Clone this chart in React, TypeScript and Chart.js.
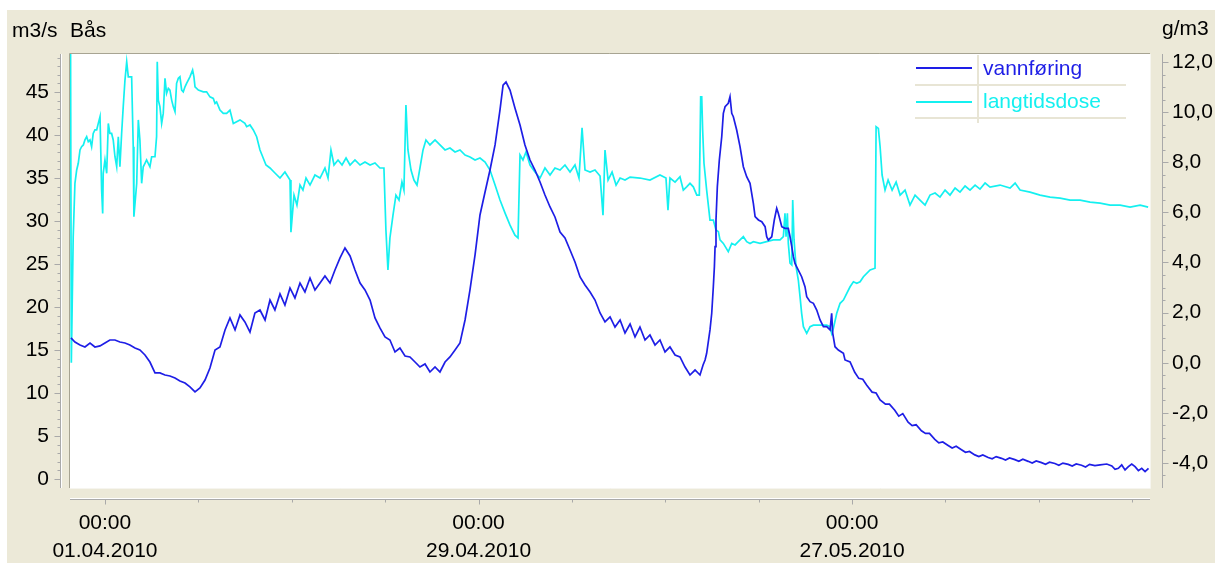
import React, { useEffect, useRef } from "react";
import { Chart, registerables } from "chart.js";
Chart.register(...registerables);

// x values are days since 01.04.2010 00:00
const flowDays = [
  -2.55, -2.25, -1.87, -1.5, -1.12, -0.75, -0.37, 0, 0.37, 0.75, 1.12, 1.5, 1.87, 2.25, 2.62, 3.0, 3.37, 3.75,
  4.12, 4.5, 4.87, 5.25, 5.62, 6.0, 6.37, 6.75, 7.12, 7.5, 7.87, 8.25, 8.62, 9.0, 9.37, 9.75, 10.12, 10.49,
  10.87, 11.24, 11.62, 12.0, 12.37, 12.74, 13.12, 13.49, 13.87, 14.24, 14.62, 14.99, 15.37, 15.74, 16.12, 16.49,
  16.87, 17.24, 17.62, 17.99, 18.37, 18.74, 19.12, 19.49, 19.87, 20.24, 20.61, 20.99, 21.36, 21.74, 22.11, 22.49,
  22.86, 23.24, 23.61, 23.99, 24.36, 24.74, 25.11, 25.49, 25.86, 26.24, 26.61, 26.99, 27.36, 27.74, 28.11, 28.49,
  28.86, 29.24, 29.61, 29.84, 30.06, 30.36, 30.73, 31.11, 31.48, 31.86, 32.23, 32.61, 32.98, 33.36, 33.73, 34.11,
  34.48, 34.86, 35.23, 35.61, 35.98, 36.36, 36.73, 37.11, 37.48, 37.86, 38.23, 38.61, 38.98, 39.36, 39.73, 40.1,
  40.48, 40.85, 41.23, 41.6, 41.98, 42.35, 42.73, 43.1, 43.48, 43.85, 44.23, 44.6, 44.83, 44.98, 45.1, 45.35,
  45.48, 45.6, 45.68, 45.73, 45.8, 45.9, 46.05, 46.23, 46.35, 46.48, 46.72, 46.85, 46.98, 47.1, 47.35, 47.6,
  47.85, 48.1, 48.35, 48.6, 48.73, 48.98, 49.23, 49.48, 49.6, 49.72, 49.98, 50.17, 50.35, 50.47, 50.73, 50.97,
  51.22, 51.35, 51.48, 51.6, 51.72, 51.97, 52.22, 52.47, 52.6, 52.85, 53.1, 53.35, 53.6, 53.85, 54.1, 54.35,
  54.47, 54.55, 54.72, 54.97, 55.35, 55.47, 55.85, 56.2, 56.5, 56.8, 57.1, 57.5, 57.8, 58.1, 58.5, 58.8,
  59.2, 59.5, 59.8, 60.2, 60.5, 60.8, 61.2, 61.5, 61.8, 62.2, 62.5, 62.8, 63.2, 63.5, 63.8, 64.2,
  64.5, 64.8, 65.2, 65.5, 65.8, 66.2, 66.5, 66.8, 67.2, 67.5, 67.8, 68.2, 68.5, 68.8, 69.2, 69.5,
  69.8, 70.2, 70.5, 70.8, 71.2, 71.5, 71.8, 72.2, 72.5, 72.8, 73.2, 73.5, 73.8, 74.2, 74.59, 75.09,
  75.47, 75.71, 75.96, 76.21, 76.46, 76.71, 76.96, 77.21, 77.46, 77.71, 77.96, 78.22,
];
const flowValues = [
  16.4, 15.93, 15.58, 15.35, 15.81, 15.35, 15.47, 15.81, 16.16, 16.16, 15.93, 15.81, 15.58, 15.23, 15.0, 14.42, 13.6, 12.33,
  12.33, 12.09, 11.98, 11.74, 11.4, 11.16, 10.7, 10.12, 10.58, 11.51, 12.91, 15.0, 15.35, 17.33, 18.72, 17.33, 19.07, 18.26,
  17.09, 19.3, 19.65, 18.49, 20.81, 19.65, 21.51, 20.23, 22.21, 21.05, 22.79, 21.74, 23.37, 21.98, 22.79, 23.6,
  22.79, 24.3, 25.7, 26.86, 25.93, 24.3, 22.79, 21.98, 20.81, 18.72, 17.56, 16.51, 16.16, 14.77, 15.23, 14.3,
  14.19, 13.6, 13.02, 13.37, 12.44, 13.02, 12.44, 13.6, 14.19, 15.0, 15.81, 18.49, 21.98, 26.05, 30.7, 33.37,
  35.93, 38.84, 42.91, 45.81, 46.16, 45.23, 43.14, 41.16, 38.84, 37.09, 35.93, 34.53, 33.02, 31.63, 30.47, 28.72,
  28.02, 26.63, 25.23, 23.49, 22.56, 21.74, 20.81, 19.3, 18.26, 18.84, 17.67, 18.49, 16.98, 18.02, 16.51, 17.67,
  16.16, 16.74, 15.58, 16.16, 14.77, 15.35, 14.42, 14.19, 13.02, 12.09, 12.67, 12.09, 13.26, 13.84, 14.62, 17.33,
  19.27, 22.36, 24.69, 27.01, 30.12, 33.99, 37.09, 39.8, 42.52, 43.29, 43.69, 44.45, 42.52, 42.13, 40.58, 38.64,
  36.31, 35.15, 34.38, 32.05, 30.5, 30.12, 29.92, 29.34, 28.17, 27.79, 28.17, 30.12, 31.48, 30.9, 29.34, 29.15,
  29.15, 28.17, 27.01, 25.85, 25.07, 24.3, 23.52, 22.36, 21.2, 20.62, 20.43, 19.65, 18.49, 17.71, 17.71, 17.33,
  19.27, 16.94, 15.38, 15.0, 14.62, 13.84, 13.6, 12.4, 11.7, 11.6, 10.9, 10.1, 10.0, 9.2, 8.7, 8.7,
  8.0, 7.3, 7.6, 6.6, 6.2, 6.3, 5.6, 5.3, 5.3, 4.6, 4.2, 4.3, 3.9, 3.6, 3.8, 3.4,
  3.1, 3.2, 2.8, 2.6, 2.8, 2.5, 2.35, 2.6, 2.4, 2.2, 2.45, 2.25, 2.05, 2.3, 2.05, 1.85,
  2.1, 1.9, 1.7, 1.95, 1.8, 1.6, 1.85, 1.7, 1.5, 1.75, 1.6, 1.4, 1.7, 1.55, 1.63, 1.74,
  1.51, 1.13, 1.24, 1.63, 1.05, 1.43, 1.74, 1.43, 0.97, 1.24, 0.85, 1.24,
];

const doseDays = [
  -2.58, -2.52, -2.38, -2.25, -2.12, -2.0, -1.87, -1.75, -1.62, -1.5, -1.37, -1.25, -1.12, -1.0, -0.88, -0.75,
  -0.62, -0.5, -0.37, -0.25, -0.17, -0.13, 0.0, 0.13, 0.25, 0.37, 0.5, 0.62, 0.75, 0.88, 1.0, 1.12, 1.25, 1.37,
  1.5, 1.63, 1.75, 2.0, 2.12, 2.17, 2.38, 2.5, 2.62, 2.75, 2.87, 3.0, 3.12, 3.37, 3.5, 3.75, 3.87, 3.92, 4.0,
  4.12, 4.25, 4.37, 4.5, 4.62, 4.75, 4.87, 5.0, 5.12, 5.25, 5.37, 5.5, 5.62, 5.75, 5.87, 6.0, 6.12, 6.37, 6.57,
  6.67, 6.75, 7.0, 7.37, 7.62, 7.87, 8.12, 8.25, 8.37, 8.62, 8.87, 9.12, 9.37, 9.62, 9.87, 10.12, 10.49, 10.62,
  10.87, 11.12, 11.37, 11.62, 11.77, 12.07, 12.37, 12.74, 13.12, 13.49, 13.87, 13.94, 14.17, 14.39, 14.62, 14.84,
  15.07, 15.37, 15.74, 16.12, 16.49, 16.72, 16.94, 17.17, 17.47, 17.77, 18.07, 18.37, 18.74, 19.12, 19.49, 19.87,
  20.24, 20.61, 20.91, 21.06, 21.21, 21.36, 21.59, 21.81, 22.04, 22.26, 22.41, 22.56, 22.71, 22.94, 23.16, 23.39,
  23.61, 23.84, 24.06, 24.36, 24.74, 25.11, 25.49, 25.86, 26.24, 26.61, 26.99, 27.36, 27.74, 28.11, 28.49, 28.86,
  29.24, 29.61, 29.99, 30.36, 30.73, 30.96, 31.11, 31.33, 31.56, 31.86, 32.23, 32.61, 32.98, 33.36, 33.73, 34.11,
  34.48, 34.86, 35.23, 35.53, 35.76, 35.98, 36.36, 36.73, 37.11, 37.33, 37.48, 37.71, 38.01, 38.31, 38.61, 38.98,
  39.36, 40.1, 40.85, 41.6, 42.05, 42.2, 42.35, 42.73, 43.1, 43.35, 43.6, 43.85, 44.1, 44.36, 44.55, 44.65, 44.73,
  44.8, 44.9, 45.1, 45.35, 45.6, 45.8, 45.98, 46.1, 46.35, 46.72, 46.98, 47.23, 47.47, 47.85, 48.1, 48.35, 48.6,
  49.1, 49.6, 50.1, 50.6, 50.85, 50.97, 51.05, 51.15, 51.22, 51.35, 51.48, 51.55, 51.65, 51.8, 51.97, 52.1, 52.22,
  52.35, 52.6, 52.85, 53.1, 54.1, 54.35, 54.47, 54.6, 54.85, 55.1, 55.35, 55.85, 56.1, 56.35, 56.6, 56.85, 57.35,
  57.72, 57.8, 57.97, 58.1, 58.25, 58.47, 58.7, 59.0, 59.3, 59.6, 59.97, 60.34, 60.72, 61.09, 61.47, 61.84, 62.22,
  62.59, 62.97, 63.34, 63.72, 64.09, 64.47, 64.84, 65.22, 65.59, 65.97, 66.34, 67.09, 67.84, 68.22, 68.59, 69.34,
  70.09, 70.84, 71.59, 72.34, 73.09, 73.84, 74.59, 75.34, 76.09, 76.84, 77.59, 78.19,
];
const doseValues = [
  13.0, 0.0, 5.03, 7.16, 7.69, 7.96, 8.49, 8.62, 8.69, 8.89, 9.02, 8.82, 8.89, 8.62, 9.15, 9.29,
  9.29, 9.55, 9.82, 6.89, 5.96, 7.56, 8.09, 7.56, 9.55, 9.15, 9.15, 8.89, 8.22, 7.82, 9.02, 7.82, 9.15, 10.22,
  11.28, 12.01, 11.41, 11.41, 8.62, 5.83, 7.16, 9.69, 8.89, 7.16, 7.82, 7.96, 8.09, 7.82, 8.22, 8.22, 9.02, 12.01, 10.48,
  10.22, 9.55, 9.95, 11.35, 10.75, 10.95, 10.88, 10.48, 10.22, 10.02, 11.15, 11.35, 11.41, 10.88, 10.81, 11.01, 11.15, 11.41, 11.68,
  11.41, 11.01, 10.88, 10.81, 10.81, 10.61, 10.55, 10.35, 10.41, 10.08, 9.95, 9.95, 10.08, 9.55, 9.62, 9.69, 9.55, 9.42,
  9.49, 9.29, 9.02, 8.49, 8.29, 7.89, 7.77, 7.57, 7.37, 7.61, 7.29, 5.21, 6.69, 6.29, 7.09, 6.89,
  7.37, 7.09, 7.49, 7.37, 7.77, 7.37, 8.49, 7.89, 8.09, 7.89, 8.17, 7.89, 8.09, 7.89, 8.01, 7.89,
  7.97, 7.77, 7.77, 5.29, 3.7, 4.98, 5.89, 6.69, 6.49, 7.21, 6.89, 10.28, 8.49, 7.69, 7.29, 7.09,
  7.77, 8.49, 8.89, 8.69, 8.89, 8.69, 8.49, 8.57, 8.41, 8.49, 8.29, 8.21, 8.09, 8.17, 8.01, 7.69,
  7.09, 6.49, 5.97, 5.49, 5.09, 4.98, 8.29, 8.09, 8.41, 7.89, 7.61, 7.37, 7.77, 7.49, 7.77, 7.69,
  7.89, 7.61, 7.89, 7.37, 9.37, 7.69, 7.61, 7.69, 7.45, 5.89, 8.49, 7.29, 7.61, 7.09, 7.37, 7.29,
  7.41, 7.37, 7.29, 7.49, 7.37, 6.09, 7.37, 7.21, 7.42, 6.89, 7.02, 7.16, 7.02, 6.69, 6.69, 10.61, 10.61,
  9.29, 7.96, 6.89, 5.69, 5.69, 5.3, 5.23, 4.9, 4.76, 4.43, 4.76, 4.7, 4.83, 5.03, 4.83, 4.76, 4.83,
  4.76, 4.83, 4.9, 4.9, 5.03, 5.96, 5.03, 5.96, 4.76, 3.97, 3.9, 6.49, 4.9, 3.83, 3.3, 2.63, 1.97,
  1.44, 1.17, 1.44, 1.5, 1.5, 1.44, 1.17, 1.37, 1.97, 2.37, 2.5, 3.03, 3.23, 3.17, 3.23, 3.43, 3.7,
  3.77, 9.42, 9.35, 8.62, 7.49, 6.89, 7.29, 6.89, 7.21, 6.69, 6.89, 6.29, 6.69, 6.49, 6.29, 6.69, 6.77,
  6.61, 6.89, 6.69, 6.97, 6.81, 7.05, 6.89, 7.09, 6.93, 7.17, 7.01, 7.09, 6.97, 7.17, 6.89, 6.81,
  6.69, 6.61, 6.57, 6.49, 6.49, 6.41, 6.37, 6.29, 6.29, 6.21, 6.29, 6.21,
];

const leftTicks = [0, 5, 10, 15, 20, 25, 30, 35, 40, 45];
const rightTicks = [-4, -2, 0, 2, 4, 6, 8, 10, 12];
const xTickDays = [0, 7, 14, 21, 28, 35, 42, 49, 56, 63, 70, 77];
const xLabelDays = [0, 28, 56];
const xLabelDates = ["01.04.2010", "29.04.2010", "27.05.2010"];

const FLOW_COLOR = "#1E1EE6";
const DOSE_COLOR = "#14F0F0";
const BG = "#ECE9D8";
const FONT = "'Liberation Sans', Arial, sans-serif";

const OX = 7;
const OY = 10;

const decor = {
  id: "decor",
  beforeDraw(chart: any) {
    const { ctx, chartArea: a, width, height } = chart;
    ctx.save();
    ctx.fillStyle = BG;
    ctx.fillRect(0, 0, width, height);
    ctx.fillStyle = "#FFFFFF";
    ctx.fillRect(a.left, a.top, a.right - a.left, a.bottom - a.top);
    ctx.restore();
  },
  afterDraw(chart: any) {
    const { ctx, chartArea: a, scales } = chart;
    const y = scales.y;
    const y1 = scales.y1;
    const x = scales.x;
    ctx.save();
    ctx.lineWidth = 1;
    ctx.strokeStyle = "#A7A492";
    ctx.beginPath();
    ctx.moveTo(a.left - 0.5, a.bottom);
    ctx.lineTo(a.left - 0.5, a.top - 0.5);
    ctx.lineTo(a.right, a.top - 0.5);
    ctx.stroke();
    ctx.strokeStyle = "#F6F5EF";
    ctx.beginPath();
    ctx.moveTo(a.left, a.bottom + 0.5);
    ctx.lineTo(a.right + 0.5, a.bottom + 0.5);
    ctx.lineTo(a.right + 0.5, a.top);
    ctx.stroke();

    const axisColor = "#A9A9A9";
    const lx = 60 - OX + 0.5;
    ctx.strokeStyle = axisColor;
    ctx.beginPath();
    ctx.moveTo(lx, a.top);
    ctx.lineTo(lx, a.bottom);
    for (let v = -1; v <= 49; v += 1) {
      const py = Math.round(y.getPixelForValue(v)) + 0.5;
      if (py < a.top || py > a.bottom) continue;
      const len = v % 5 === 0 ? 6 : 3;
      ctx.moveTo(lx - len, py);
      ctx.lineTo(lx, py);
    }
    ctx.stroke();
    ctx.strokeStyle = "#FFFFFF";
    ctx.beginPath();
    ctx.moveTo(lx + 1, a.top);
    ctx.lineTo(lx + 1, a.bottom);
    ctx.stroke();

    const rx = 1162 - OX + 0.5;
    ctx.strokeStyle = axisColor;
    ctx.beginPath();
    ctx.moveTo(rx, a.top);
    ctx.lineTo(rx, a.bottom);
    for (let i = -10; i <= 25; i++) {
      const v = i * 0.5;
      const py = Math.round(y1.getPixelForValue(v)) + 0.5;
      if (py < a.top || py > a.bottom) continue;
      const len = i % 4 === 0 ? 6 : 3;
      ctx.moveTo(rx, py);
      ctx.lineTo(rx + len, py);
    }
    ctx.stroke();

    const by = 499 - OY + 0.5;
    ctx.strokeStyle = axisColor;
    ctx.beginPath();
    ctx.moveTo(a.left, by);
    ctx.lineTo(a.right, by);
    for (const d of xTickDays) {
      const px = Math.round(x.getPixelForValue(d)) + 0.5;
      const len = d % 28 === 0 ? 5 : 3;
      ctx.moveTo(px, by);
      ctx.lineTo(px, by + len);
    }
    ctx.stroke();
    ctx.strokeStyle = "#FFFFFF";
    ctx.beginPath();
    ctx.moveTo(a.left, by - 1);
    ctx.lineTo(a.right, by - 1);
    ctx.stroke();

    ctx.fillStyle = "#000";
    ctx.font = `21px ${FONT}`;
    ctx.textBaseline = "alphabetic";
    ctx.textAlign = "left";
    ctx.fillText("m3/s", 12 - OX, 37 - OY);
    ctx.fillText("Bås", 70 - OX, 37 - OY);
    ctx.fillText("g/m3", 1162 - OX, 35 - OY);

    const sep = "#E8E5D5";
    ctx.strokeStyle = sep;
    ctx.lineWidth = 2;
    ctx.beginPath();
    ctx.moveTo(915 - OX, 85 - OY);
    ctx.lineTo(1126 - OX, 85 - OY);
    ctx.moveTo(915 - OX, 118 - OY);
    ctx.lineTo(1126 - OX, 118 - OY);
    ctx.moveTo(978 - OX, 55 - OY);
    ctx.lineTo(978 - OX, 123 - OY);
    ctx.stroke();
    const ds = chart.data.datasets;
    const rows = [68, 102];
    const bases = [75, 108];
    ds.forEach((d: any, i: number) => {
      ctx.strokeStyle = d.borderColor;
      ctx.lineWidth = 2;
      ctx.beginPath();
      ctx.moveTo(916 - OX, rows[i] - OY);
      ctx.lineTo(972 - OX, rows[i] - OY);
      ctx.stroke();
      ctx.fillStyle = d.borderColor;
      ctx.fillText(d.label, 983 - OX, bases[i] - OY);
    });
    ctx.restore();
  },
};

export default function App() {
  const ref = useRef<HTMLCanvasElement | null>(null);
  useEffect(() => {
    if (!ref.current) return;
    const flow = flowDays.map((d, i) => ({ x: d, y: flowValues[i] }));
    const dose = doseDays.map((d, i) => ({ x: d, y: doseValues[i] }));
    const chart = new Chart(ref.current, {
      type: "line",
      data: {
        datasets: [
          {
            label: "vannføring",
            data: flow,
            borderColor: FLOW_COLOR,
            borderWidth: 1.7,
            pointRadius: 0,
            tension: 0,
            yAxisID: "y",
          },
          {
            label: "langtidsdose",
            data: dose,
            borderColor: DOSE_COLOR,
            borderWidth: 1.7,
            pointRadius: 0,
            tension: 0,
            yAxisID: "y1",
          },
        ],
      },
      options: {
        responsive: false,
        animation: false,
        events: [],
        layout: { padding: { top: 44, left: 0, right: 0, bottom: 0 } },
        plugins: { legend: { display: false }, tooltip: { enabled: false } },
        scales: {
          x: {
            type: "linear",
            min: -2.62,
            max: 78.33,
            grid: { display: false, drawTicks: false },
            border: { display: false },
            afterFit: (s: any) => {
              s.height = 75;
            },
            afterBuildTicks: (s: any) => {
              s.ticks = xTickDays.map((v) => ({ value: v }));
            },
            ticks: {
              autoSkip: false,
              maxRotation: 0,
              padding: 21,
              color: "#000",
              font: { family: FONT, size: 21, lineHeight: 1.35 },
              callback: (v: any) => {
                const k = xLabelDays.indexOf(Number(v));
                return k >= 0 ? ["00:00", xLabelDates[k]] : "";
              },
            },
          },
          y: {
            type: "linear",
            position: "left",
            min: -1.05,
            max: 49.42,
            grid: { display: false, drawTicks: false },
            border: { display: false },
            afterFit: (s: any) => {
              s.width = 63;
            },
            afterBuildTicks: (s: any) => {
              s.ticks = leftTicks.map((v) => ({ value: v }));
            },
            ticks: {
              padding: 21,
              color: "#000",
              font: { family: FONT, size: 21 },
              callback: (v: any) => String(v),
            },
          },
          y1: {
            type: "linear",
            position: "right",
            min: -5.0,
            max: 12.32,
            grid: { display: false, drawTicks: false },
            border: { display: false },
            afterFit: (s: any) => {
              s.width = 65;
            },
            afterBuildTicks: (s: any) => {
              s.ticks = rightTicks.map((v) => ({ value: v }));
            },
            ticks: {
              padding: 22,
              color: "#000",
              font: { family: FONT, size: 21 },
              callback: (v: any) => Number(v).toFixed(1).replace(".", ","),
            },
          },
        },
      },
      plugins: [decor],
    });
    return () => chart.destroy();
  }, []);
  return (
    <div style={{ position: "fixed", left: OX, top: OY, width: 1208, height: 553 }}>
      <canvas ref={ref} width={1208} height={553} style={{ display: "block" }} />
    </div>
  );
}
